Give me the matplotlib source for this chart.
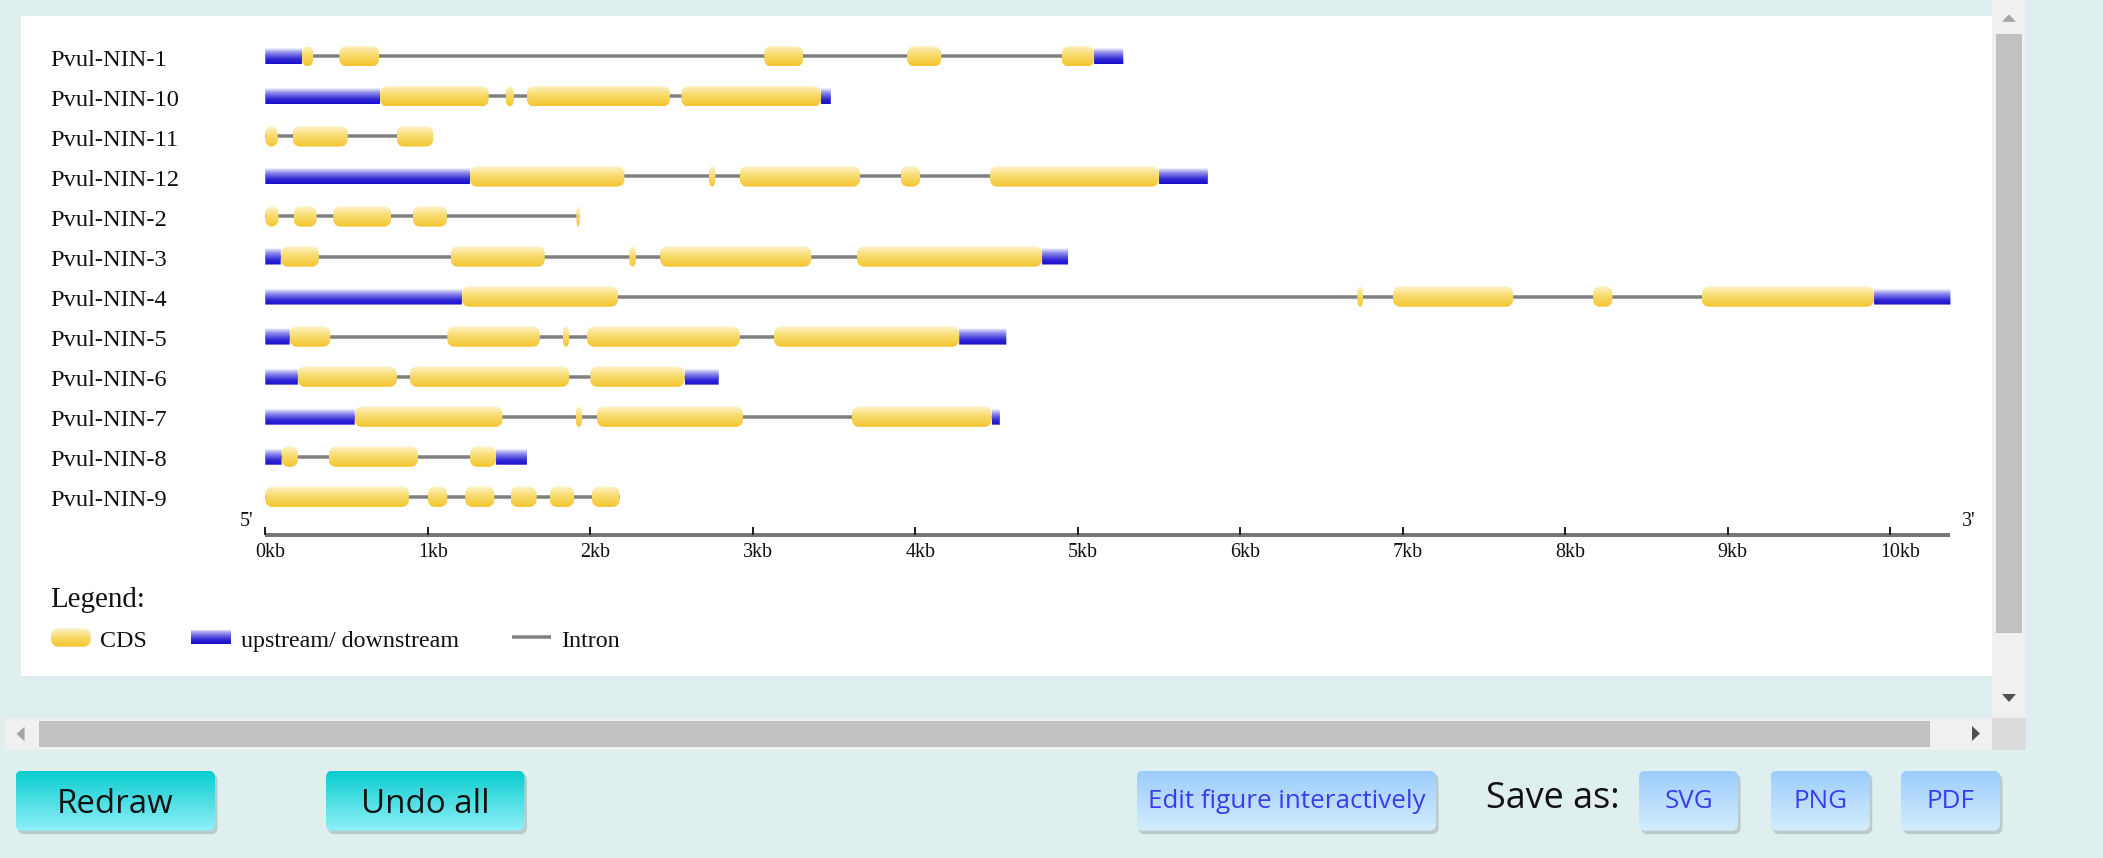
import numpy as np
import matplotlib
matplotlib.use("Agg")
import matplotlib.pyplot as plt
from matplotlib.path import Path
from matplotlib.patches import PathPatch, Rectangle, Polygon
from matplotlib.colors import LinearSegmentedColormap
import matplotlib.transforms as mtransforms

# ---------------------------------------------------------------- data (kb)
gene_names = ["Pvul-NIN-1", "Pvul-NIN-10", "Pvul-NIN-11", "Pvul-NIN-12",
              "Pvul-NIN-2", "Pvul-NIN-3", "Pvul-NIN-4", "Pvul-NIN-5",
              "Pvul-NIN-6", "Pvul-NIN-7", "Pvul-NIN-8", "Pvul-NIN-9"]

nin1_utr = [(0.0, 0.226), (5.10, 5.28)]
nin1_cds = [(0.226, 0.295), (0.456, 0.70), (3.07, 3.31), (3.95, 4.16), (4.90, 5.10)]
nin10_utr = [(0.0, 0.706), (3.42, 3.48)]
nin10_cds = [(0.706, 1.375), (1.48, 1.53), (1.61, 2.49), (2.56, 3.42)]
nin11_utr = []
nin11_cds = [(0.0, 0.076), (0.169, 0.507), (0.808, 1.034)]
nin12_utr = [(0.0, 1.26), (5.50, 5.80)]
nin12_cds = [(1.26, 2.21), (2.73, 2.77), (2.92, 3.66), (3.91, 4.03), (4.46, 5.50)]
nin2_utr = []
nin2_cds = [(0.0, 0.081), (0.174, 0.316), (0.418, 0.774), (0.907, 1.118), (1.915, 1.935)]
nin3_utr = [(0.0, 0.095), (4.78, 4.94)]
nin3_cds = [(0.095, 0.33), (1.14, 1.72), (2.24, 2.28), (2.43, 3.36), (3.64, 4.78)]
nin4_utr = [(0.0, 1.21), (9.90, 10.37)]
nin4_cds = [(1.21, 2.17), (6.72, 6.755), (6.94, 7.68), (8.17, 8.29), (8.84, 9.90)]
nin5_utr = [(0.0, 0.15), (4.27, 4.56)]
nin5_cds = [(0.15, 0.40), (1.12, 1.69), (1.83, 1.87), (1.98, 2.92), (3.13, 4.27)]
nin6_utr = [(0.0, 0.20), (2.58, 2.79)]
nin6_cds = [(0.20, 0.81), (0.89, 1.87), (2.00, 2.58)]
nin7_utr = [(0.0, 0.55), (4.47, 4.52)]
nin7_cds = [(0.55, 1.46), (1.91, 1.95), (2.04, 2.94), (3.61, 4.47)]
nin8_utr = [(0.0, 0.10), (1.42, 1.61)]
nin8_cds = [(0.10, 0.20), (0.39, 0.94), (1.26, 1.42)]
nin9_utr = []
nin9_cds = [(0.0, 0.885), (1.00, 1.12), (1.23, 1.41), (1.51, 1.67), (1.75, 1.90), (2.01, 2.18)]

utr_segments = [nin1_utr, nin10_utr, nin11_utr, nin12_utr, nin2_utr, nin3_utr,
                nin4_utr, nin5_utr, nin6_utr, nin7_utr, nin8_utr, nin9_utr]
cds_segments = [nin1_cds, nin10_cds, nin11_cds, nin12_cds, nin2_cds, nin3_cds,
                nin4_cds, nin5_cds, nin6_cds, nin7_cds, nin8_cds, nin9_cds]

scale_ticks = list(range(0, 11))
scale_labels = [f"{t}kb" for t in scale_ticks]

legend_labels = ["CDS", "upstream/ downstream", "Intron"]

# ---------------------------------------------------------------- layout
W, H, DPI = 2103, 858, 100
X0_PX, PX_PER_KB = 265.3, 162.5      # 0 kb position and kb scale
ROW0_PX, PX_PER_ROW = 56.3, 40.04    # first gene row and row spacing
PT = 72.0 / DPI                       # points per pixel

SERIF = ["Liberation Serif", "DejaVu Serif"]
SANS = ["Open Sans", "DejaVu Sans"]

CDS_STOPS = [(0.0, "#fdf4cc"), (0.45, "#f9dc70"), (1.0, "#f3c42e")]
UTR_STOPS = [(0.0, "#f0f0fe"), (0.3, "#8c88ea"), (0.7, "#3027d6"), (1.0, "#1a0ecb")]
CYAN_STOPS = [(0.0, "#09cdcf"), (1.0, "#90f0f8")]
BLUE_STOPS = [(0.0, "#9ccdfd"), (1.0, "#d4edfd")]

fig = plt.figure(figsize=(W / DPI, H / DPI), dpi=DPI)
fig.patch.set_facecolor("#dfeeee")

ui = fig.add_axes([0, 0, 1, 1], zorder=1)
ui.set_xlim(0, W)
ui.set_ylim(H, 0)
ui.axis("off")

ax = fig.add_axes([0, 0, 1, 1], zorder=2)
ax.patch.set_visible(False)
ax.axis("off")
gx_lim = (-X0_PX / PX_PER_KB, (W - X0_PX) / PX_PER_KB)
gy_lim = ((H - ROW0_PX) / PX_PER_ROW, -ROW0_PX / PX_PER_ROW)


def rounded_path(x0, x1, y0, y1, rx, ry):
    rx = min(rx, (x1 - x0) / 2.0)
    ry = min(ry, (y1 - y0) / 2.0)
    k = 0.5523
    verts = [
        (x0 + rx, y0), (x1 - rx, y0),
        (x1 - rx + k * rx, y0), (x1, y0 + ry - k * ry), (x1, y0 + ry),
        (x1, y1 - ry),
        (x1, y1 - ry + k * ry), (x1 - rx + k * rx, y1), (x1 - rx, y1),
        (x0 + rx, y1),
        (x0 + rx - k * rx, y1), (x0, y1 - ry + k * ry), (x0, y1 - ry),
        (x0, y0 + ry),
        (x0, y0 + ry - k * ry), (x0 + rx - k * rx, y0), (x0 + rx, y0),
        (x0 + rx, y0)]
    codes = ([Path.MOVETO, Path.LINETO] + [Path.CURVE4] * 3 + [Path.LINETO]
             + [Path.CURVE4] * 3 + [Path.LINETO] + [Path.CURVE4] * 3
             + [Path.LINETO] + [Path.CURVE4] * 3 + [Path.CLOSEPOLY])
    return Path(verts, codes)


def gradient_box(axes, x0, x1, y0, y1, stops, rx=0.0, ry=0.0, zorder=3):
    """Fill a (rounded) box with a top-to-bottom gradient; y0 is the top."""
    cmap = LinearSegmentedColormap.from_list("grad", stops)
    grad = cmap(np.linspace(0, 1, 128))[:, None, :]
    clip = PathPatch(rounded_path(x0, x1, y0, y1, rx, ry), facecolor="none",
                     edgecolor="none", transform=axes.transData)
    axes.add_patch(clip)
    im = axes.imshow(grad, extent=(x0, x1, y1, y0), origin="upper",
                     aspect="auto", interpolation="bilinear", zorder=zorder)
    im.set_clip_path(clip)


# ---------------------------------------------------------------- page
ui.add_patch(Rectangle((20.7, 15.5), 1992.3 - 20.7, 676 - 15.5,
                       facecolor="white", edgecolor="none", zorder=1))

# vertical scrollbar
ui.add_patch(Rectangle((1992.3, 0), 33.4, 717.7, facecolor="#f0f0f0", zorder=1))
ui.add_patch(Rectangle((1996, 34), 25.7, 598.6, facecolor="#c1c1c1", zorder=2))
ui.add_patch(Polygon([(2002, 21.8), (2016, 21.8), (2009, 14.5)], closed=True,
                     facecolor="#a3a3a3", edgecolor="none", zorder=2))
ui.add_patch(Polygon([(2002, 694), (2016, 694), (2009, 702)], closed=True,
                     facecolor="#505050", edgecolor="none", zorder=2))
# horizontal scrollbar
ui.add_patch(Rectangle((5.4, 717.7), 1992.3 - 5.4, 32.3, facecolor="#f0f0f0", zorder=1))
ui.add_patch(Rectangle((39, 720.7), 1930 - 39, 26, facecolor="#c1c1c1", zorder=2))
ui.add_patch(Rectangle((1992.3, 717.7), 33.4, 32.3, facecolor="#dcdcdc", zorder=1))
ui.add_patch(Polygon([(16.5, 734), (24.5, 726.7), (24.5, 741.3)], closed=True,
                     facecolor="#a3a3a3", edgecolor="none", zorder=2))
ui.add_patch(Polygon([(1972, 726), (1972, 741), (1980, 733.5)], closed=True,
                     facecolor="#505050", edgecolor="none", zorder=2))


def button(x0, x1, label, stops, color, size_px, baseline, cx=None):
    y0, y1 = 770.7, 830.7
    shadow = PathPatch(rounded_path(x0 + 2, x1 + 2.5, y0 + 3, y1 + 3.5, 6, 6),
                       facecolor="#bccaca", edgecolor="none", zorder=1,
                       transform=ui.transData)
    ui.add_patch(shadow)
    gradient_box(ui, x0, x1, y0, y1, stops, rx=6, ry=6, zorder=2)
    ui.text((x0 + x1) / 2 if cx is None else cx, baseline, label, ha="center",
            va="baseline", color=color, fontsize=size_px * PT, family=SANS, zorder=3)


button(15.6, 215, "Redraw", CYAN_STOPS, "#111111", 33, 813.3)
button(326, 524.5, "Undo all", CYAN_STOPS, "#111111", 33, 813.3)
button(1136.5, 1436, "Edit figure interactively", BLUE_STOPS, "#3c3cee", 26, 808.3)
button(1639, 1738, "SVG", BLUE_STOPS, "#3c3cee", 26, 808.3)
button(1770.5, 1869.7, "PNG", BLUE_STOPS, "#3c3cee", 26, 808.3)
button(1901, 2000, "PDF", BLUE_STOPS, "#3c3cee", 26, 808.3)
ui.text(1486, 808.3, "Save as:", ha="left", va="baseline", color="#111111",
        fontsize=36 * PT, family=SANS, zorder=3)

# ---------------------------------------------------------------- genes
cds_h = 20.3 / PX_PER_ROW
utr_h = 16.0 / PX_PER_ROW
rx_kb = 7.0 / PX_PER_KB
ry_row = 7.0 / PX_PER_ROW
label_tf = mtransforms.offset_copy(
    mtransforms.blended_transform_factory(ui.transData, ax.transData),
    fig=fig, x=0, y=-9.7, units="dots")

for row, (name, utrs, cdss) in enumerate(zip(gene_names, utr_segments, cds_segments)):
    segs = utrs + cdss
    start = min(s for s, _ in segs)
    end = max(e for _, e in segs)
    ax.hlines(row, start, end, color="#808080", linewidth=3.5 * PT, zorder=3)
    for s, e in utrs:
        gradient_box(ax, s, e, row - utr_h / 2, row + utr_h / 2, UTR_STOPS, zorder=4)
    for s, e in cdss:
        gradient_box(ax, s, e, row - cds_h / 2, row + cds_h / 2, CDS_STOPS,
                     rx=rx_kb, ry=ry_row, zorder=5)
    ax.text(50.7, row, name, transform=label_tf, ha="left", va="baseline",
            fontsize=24.5 * PT, family=SERIF, color="#111111", zorder=6)

# ---------------------------------------------------------------- scale bar
scale_y = (535.3 - ROW0_PX) / PX_PER_ROW
scale_end = max(e for segs in utr_segments + cds_segments for _, e in segs)
ax.hlines(scale_y, 0, scale_end, color="#777777", linewidth=4 * PT, zorder=3)
ax.vlines(scale_ticks, scale_y - 8.6 / PX_PER_ROW, scale_y, color="#222222",
          linewidth=2 * PT, zorder=4)
tick_tf = mtransforms.offset_copy(ax.transData, fig=fig, x=-10, y=-21.4, units="dots")
for t, lab in zip(scale_ticks, scale_labels):
    ax.text(t, scale_y, lab, transform=tick_tf, ha="left", va="baseline",
            fontsize=20 * PT, family=SERIF, color="#111111")
ui.text(240, 526, "5'", ha="left", va="baseline", fontsize=20 * PT,
        family=SERIF, color="#111111", zorder=3)
ui.text(1962, 526, "3'", ha="left", va="baseline", fontsize=20 * PT,
        family=SERIF, color="#111111", zorder=3)

# ---------------------------------------------------------------- legend
ui.text(50, 606.7, "Legend:", ha="left", va="baseline", fontsize=29 * PT,
        family=SERIF, color="#111111", zorder=3)
gradient_box(ui, 51, 90.6, 628.3, 646.7, CDS_STOPS, rx=7, ry=7, zorder=3)
ui.text(100.4, 646.7, legend_labels[0], ha="left", va="baseline",
        fontsize=24 * PT, family=SERIF, color="#111111", zorder=3)
gradient_box(ui, 191, 231, 630, 644.5, UTR_STOPS, zorder=3)
ui.text(241, 646.7, legend_labels[1], ha="left", va="baseline",
        fontsize=24 * PT, family=SERIF, color="#111111", zorder=3)
ui.plot([511.7, 551], [636.7, 636.7], color="#808080", linewidth=3.5 * PT,
        solid_capstyle="butt", zorder=3)
ui.text(561, 646.7, legend_labels[2], ha="left", va="baseline",
        fontsize=24 * PT, family=SERIF, color="#111111", zorder=3)

ui.set_xlim(0, W)
ui.set_ylim(H, 0)
ax.set_xlim(*gx_lim)
ax.set_ylim(*gy_lim)

fig.savefig("out.png", dpi=DPI, facecolor=fig.get_facecolor())
